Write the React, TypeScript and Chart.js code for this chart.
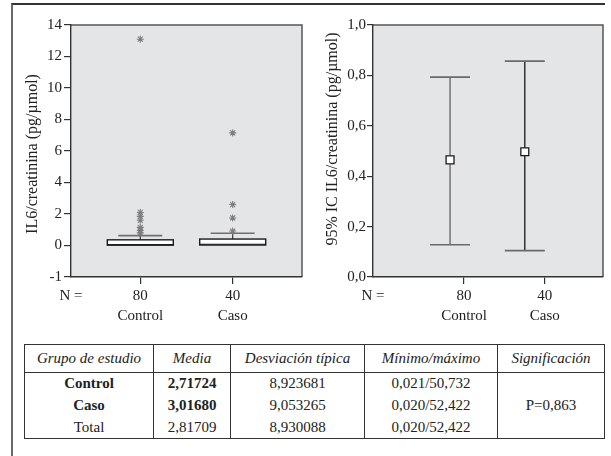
import React, { useEffect, useRef } from "react";
import { Chart, registerables } from "chart.js";

Chart.register(...registerables);

// ---------- data ----------
const groups = ["Control", "Caso"];
const groupN = ["80", "40"];
const nLabel = "N =";

// Box plot: IL6/creatinina
const boxQ1 = [0.02, 0.03];
const boxMedian = [0.06, 0.08];
const boxQ3 = [0.36, 0.41];
const boxWhiskerHigh = [0.63, 0.78];
const controlOutliers = [13.1, 2.1, 1.85, 1.6, 1.15, 0.95, 0.8];
const casoOutliers = [7.15, 2.6, 1.75, 0.92];
const boxYTicks = [-2, 0, 2, 4, 6, 8, 10, 12, 14];
const boxYTickLabels = ["-1", "0", "2", "4", "6", "8", "10", "12", "14"];
const boxYTitle = "IL6/creatinina (pg/µmol)";

// Error bars: 95% CI
const ciMean = [0.465, 0.497];
const ciLow = [0.128, 0.105];
const ciHigh = [0.793, 0.857];
const ciYTicks = [0, 0.2, 0.4, 0.6, 0.8, 1.0];
const ciYTickLabels = ["0,0", "0,2", "0,4", "0,6", "0,8", "1,0"];
const ciYTitle = "95% IC IL6/creatinina (pg/µmol)";

// Table
const tableHeaders = ["Grupo de estudio", "Media", "Desviación típica", "Mínimo/máximo", "Significación"];
const tableGroups = ["Control", "Caso", "Total"];
const tableMeans = ["2,71724", "3,01680", "2,81709"];
const tableSDs = ["8,923681", "9,053265", "8,930088"];
const tableMinMax = ["0,021/50,732", "0,020/52,422", "0,020/52,422"];
const tableSignificance = "P=0,863";
const tableBold = [true, true, false];

// ---------- layout (positions on the abstract x axis) ----------
const BOX_X = [0.3, 0.7];
const CI_X = [0.335, 0.66];
const CI_TICK_X = [0.396, 0.747];

const FONT = "'Liberation Serif', 'Times New Roman', serif";
const INK = "#222";

const plotFrame = {
  id: "plotFrame",
  beforeDraw(chart: any) {
    const { ctx, chartArea: a } = chart;
    ctx.save();
    ctx.fillStyle = "#e4e5e7";
    ctx.fillRect(a.left, a.top, a.right - a.left, a.bottom - a.top);
    ctx.strokeStyle = "#555";
    ctx.lineWidth = 1.5;
    ctx.beginPath();
    ctx.moveTo(a.left, a.top);
    ctx.lineTo(a.right, a.top);
    ctx.lineTo(a.right, a.bottom);
    ctx.stroke();
    ctx.restore();
  },
};

const yTitle = {
  id: "yTitle",
  afterDraw(chart: any, _args: any, opts: any) {
    const { ctx, chartArea: a } = chart;
    ctx.save();
    ctx.translate(opts.x, (a.top + a.bottom) / 2 + (opts.dy || 0));
    ctx.rotate(-Math.PI / 2);
    ctx.font = `16px ${FONT}`;
    ctx.fillStyle = INK;
    ctx.textAlign = "center";
    ctx.textBaseline = "middle";
    ctx.fillText(opts.text, 0, 0);
    ctx.restore();
  },
};

const boxPlot = {
  id: "boxPlot",
  beforeDatasetsDraw(chart: any) {
    const { ctx, scales } = chart;
    const xs = scales.x;
    const ys = scales.y;
    ctx.save();
    for (let i = 0; i < groups.length; i++) {
      const cx = xs.getPixelForValue(BOX_X[i]);
      const yQ1 = ys.getPixelForValue(boxQ1[i]);
      const yMed = ys.getPixelForValue(boxMedian[i]);
      const yQ3 = ys.getPixelForValue(boxQ3[i]);
      const yHi = ys.getPixelForValue(boxWhiskerHigh[i]);
      // whisker
      ctx.strokeStyle = "#333";
      ctx.lineWidth = 1.2;
      ctx.beginPath();
      ctx.moveTo(cx, yQ3);
      ctx.lineTo(cx, yHi);
      ctx.stroke();
      ctx.strokeStyle = "#6f6f6f";
      ctx.lineWidth = 1.6;
      ctx.beginPath();
      ctx.moveTo(cx - 22, yHi);
      ctx.lineTo(cx + 22, yHi);
      ctx.stroke();
      // box
      const hw = 33;
      ctx.fillStyle = "#ffffff";
      ctx.fillRect(cx - hw, yQ3, hw * 2, yQ1 - yQ3);
      ctx.strokeStyle = "#1a1a1a";
      ctx.lineWidth = 1.4;
      ctx.strokeRect(cx - hw, yQ3, hw * 2, yQ1 - yQ3);
      ctx.beginPath();
      ctx.moveTo(cx - hw, yMed);
      ctx.lineTo(cx + hw, yMed);
      ctx.lineWidth = 1;
      ctx.stroke();
    }
    ctx.restore();
  },
};

const errorBars = {
  id: "errorBars",
  beforeDatasetsDraw(chart: any) {
    const { ctx, scales } = chart;
    const xs = scales.x;
    const ys = scales.y;
    ctx.save();
    const lineColors = ["#7a7a7a", "#161616"];
    const lineWidths = [1.6, 1.3];
    for (let i = 0; i < groups.length; i++) {
      const cx = xs.getPixelForValue(CI_X[i]);
      const yLo = ys.getPixelForValue(ciLow[i]);
      const yHi = ys.getPixelForValue(ciHigh[i]);
      ctx.strokeStyle = lineColors[i];
      ctx.lineWidth = lineWidths[i];
      ctx.beginPath();
      ctx.moveTo(cx, yLo);
      ctx.lineTo(cx, yHi);
      ctx.stroke();
      ctx.strokeStyle = "#6a6a6a";
      ctx.lineWidth = 1.7;
      ctx.beginPath();
      ctx.moveTo(cx - 20, yHi);
      ctx.lineTo(cx + 20, yHi);
      ctx.moveTo(cx - 20, yLo);
      ctx.lineTo(cx + 20, yLo);
      ctx.stroke();
    }
    ctx.restore();
  },
};

function xAxis(tickXs: number[], tickLen: number) {
  return {
    type: "linear",
    min: 0,
    max: 1,
    afterBuildTicks: (s: any) => {
      s.ticks = [0, ...tickXs].map((v) => ({ value: v }));
    },
    afterFit: (s: any) => {
      s.height = 63;
    },
    ticks: {
      autoSkip: false,
      maxRotation: 0,
      minRotation: 0,
      padding: 2,
      color: INK,
      font: { family: FONT, size: 15, lineHeight: 1.33 },
      callback: (_v: any, i: number) => (i === 0 ? [nLabel, ""] : [groupN[i - 1], groups[i - 1]]),
    },
    grid: {
      drawOnChartArea: false,
      drawTicks: true,
      tickLength: tickLen,
      tickColor: (c: any) => (c.tick && c.tick.value === 0 ? "rgba(0,0,0,0)" : "#333"),
      lineWidth: 1.2,
    },
    border: { display: true, color: "#333", width: 1.4 },
  };
}

function yAxis(vals: number[], labels: string[], min: number, max: number, width: number, tickLen: number, pad: number) {
  return {
    type: "linear",
    min,
    max,
    afterBuildTicks: (s: any) => {
      s.ticks = vals.map((v) => ({ value: v }));
    },
    afterFit: (s: any) => {
      s.width = width;
    },
    ticks: {
      autoSkip: false,
      padding: pad,
      color: INK,
      font: { family: FONT, size: 15 },
      callback: (_v: any, i: number) => labels[i],
    },
    grid: {
      drawOnChartArea: false,
      drawTicks: true,
      tickLength: tickLen,
      tickColor: "#333",
      lineWidth: 1.2,
    },
    border: { display: true, color: "#333", width: 1.4 },
  };
}

function BoxChart() {
  const ref = useRef<HTMLCanvasElement | null>(null);
  useEffect(() => {
    if (!ref.current) return;
    const star = (vals: number[], x: number) => vals.map((v) => ({ x, y: v }));
    const chart = new Chart(ref.current, {
      type: "scatter",
      data: {
        datasets: [
          {
            label: "Control",
            data: star(controlOutliers, BOX_X[0]),
            pointStyle: "star",
            pointRadius: 3.5,
            borderColor: "#7d7d7d",
            borderWidth: 1.1,
          },
          {
            label: "Caso",
            data: star(casoOutliers, BOX_X[1]),
            pointStyle: "star",
            pointRadius: 3.5,
            borderColor: "#7d7d7d",
            borderWidth: 1.1,
          },
        ],
      },
      options: {
        responsive: false,
        animation: false,
        layout: { padding: { top: 25, right: 8, bottom: 0, left: 0 } },
        scales: {
          x: xAxis(BOX_X, 7) as any,
          y: yAxis(boxYTicks, boxYTickLabels, -2, 14, 71, 7, 2) as any,
        },
        plugins: {
          legend: { display: false },
          tooltip: { enabled: false },
          yTitle: { text: boxYTitle, x: 33, dy: 3 },
        } as any,
      },
      plugins: [plotFrame, boxPlot, yTitle],
    });
    return () => chart.destroy();
  }, []);
  return <canvas ref={ref} width={310} height={340} style={{ position: "absolute", left: 0, top: 0 }} />;
}

function CIChart() {
  const ref = useRef<HTMLCanvasElement | null>(null);
  useEffect(() => {
    if (!ref.current) return;
    const chart = new Chart(ref.current, {
      type: "scatter",
      data: {
        datasets: [
          {
            label: "Media",
            data: ciMean.map((m, i) => ({ x: CI_X[i], y: m })),
            pointStyle: "rect",
            pointRadius: 5.6,
            backgroundColor: "#ffffff",
            borderColor: "#1a1a1a",
            borderWidth: 1.3,
          },
        ],
      },
      options: {
        responsive: false,
        animation: false,
        layout: { padding: { top: 25, right: 8, bottom: 0, left: 0 } },
        scales: {
          x: xAxis(CI_TICK_X, 7) as any,
          y: yAxis(ciYTicks, ciYTickLabels, 0, 1, 63, 6, 1) as any,
        },
        plugins: {
          legend: { display: false },
          tooltip: { enabled: false },
          yTitle: { text: ciYTitle, x: 23, dy: -12 },
        } as any,
      },
      plugins: [plotFrame, errorBars, yTitle],
    });
    return () => chart.destroy();
  }, []);
  return <canvas ref={ref} width={301} height={340} style={{ position: "absolute", left: 310, top: 0 }} />;
}

function StatsTable() {
  const colW = [129, 77, 134, 133, 107];
  const cell: React.CSSProperties = {
    borderLeft: "1px solid #333",
    borderRight: "1px solid #333",
    padding: 0,
    textAlign: "center",
    lineHeight: "21px",
  };
  return (
    <table
      style={{
        position: "absolute",
        left: 24,
        top: 344,
        width: 580,
        borderCollapse: "collapse",
        fontFamily: FONT,
        fontSize: 15,
        color: INK,
        border: "1.5px solid #333",
        tableLayout: "fixed",
      }}
    >
      <colgroup>
        {colW.map((w, i) => (
          <col key={i} style={{ width: w }} />
        ))}
      </colgroup>
      <thead>
        <tr style={{ height: 28 }}>
          {tableHeaders.map((h, i) => (
            <th key={i} style={{ ...cell, fontWeight: "normal", fontStyle: "italic", borderBottom: "1.5px solid #333" }}>
              {h}
            </th>
          ))}
        </tr>
      </thead>
      <tbody>
        {tableGroups.map((g, r) => (
          <tr key={r} style={{ height: 22 }}>
            <td style={{ ...cell, fontWeight: tableBold[r] ? "bold" : "normal" }}>{g}</td>
            <td style={{ ...cell, fontWeight: tableBold[r] ? "bold" : "normal" }}>{tableMeans[r]}</td>
            <td style={cell}>{tableSDs[r]}</td>
            <td style={cell}>{tableMinMax[r]}</td>
            {r === 0 ? (
              <td rowSpan={3} style={cell}>
                {tableSignificance}
              </td>
            ) : null}
          </tr>
        ))}
      </tbody>
    </table>
  );
}

export default function App() {
  return (
    <div style={{ position: "absolute", left: 0, top: 0, width: 611, height: 456, background: "#fff", overflow: "hidden" }}>
      <div
        style={{
          position: "absolute",
          left: 11,
          top: 3,
          width: 592,
          height: 470,
          borderLeft: "2px solid #6a6a6a",
          borderTop: "2px solid #333",
        }}
      />
      <BoxChart />
      <CIChart />
      <StatsTable />
    </div>
  );
}
